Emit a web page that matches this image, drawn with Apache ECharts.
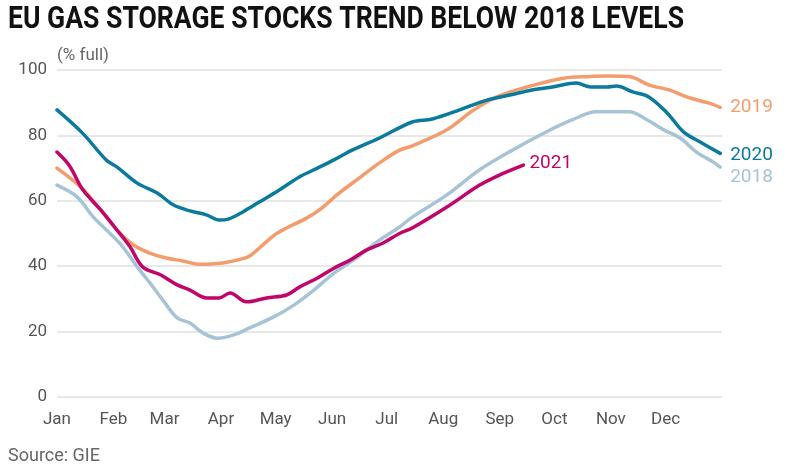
<!DOCTYPE html>
<html>
<head>
<meta charset="utf-8">
<script src="https://cdn.jsdelivr.net/npm/echarts@6/dist/echarts.min.js"></script>
<style>
html,body{margin:0;padding:0;background:#fff;}
#c{width:787px;height:471px;}
</style>
</head>
<body>
<div id="c"></div>
<script>
var titleText = 'EU GAS STORAGE STOCKS TREND BELOW 2018 LEVELS';
var monthLabels = ['Jan','Feb','Mar','Apr','May','Jun','Jul','Aug','Sep','Oct','Nov','Dec'];
var monthStarts = [0,31,59,90,120,151,181,212,243,273,304,334];
var yTicks = [0,20,40,60,80,100];

var days2018 = [0,11,20,29,36,44,51,58,66,73,80,88,97,106,119,130,141,152,165,176,188,195,214,232,250,269,283,296,314,324,333,342,351,360,364];
var vals2018 = [64.8,61.2,55,50.1,46,39.8,34.9,29.7,24.2,22.6,19.6,18,19,21.2,24.5,28.1,32.7,37.9,42.8,47.6,52,55,61.8,69.5,75.5,81.2,84.8,87.2,87.2,84.7,81.7,79.2,74.9,71.9,70.3];

var days2019 = [0,13,24,33,42,51,60,69,78,91,102,106,113,120,126,137,144,155,166,177,188,195,214,228,241,258,278,293,302,314,325,336,346,357,364];
var vals2019 = [70,64.2,57.2,51,46.5,44,42.5,41.6,40.6,41,42.3,43.2,46.5,49.8,51.7,54.7,57.2,62.4,67,71.6,75.5,76.8,81.7,87.5,91.7,94.8,97.5,98,98.2,98,95.4,93.9,91.7,90,88.6];

var days2020 = [0,14,27,33,44,55,64,73,82,89,94,102,111,122,133,143,152,162,177,195,206,221,236,250,260,272,285,293,302,307,316,325,335,344,353,364];
var vals2020 = [87.8,80.7,72.5,70.3,65.4,62.4,58.7,56.9,55.7,54.1,54.4,56.6,59.6,63.3,67.3,70,72.5,75.5,79.2,84.1,85,87.8,90.8,92.5,93.8,94.8,96,94.8,94.8,95.1,93.3,91.7,86.8,81,78,74.5];

var days2021 = [0,7,14,24,33,40,47,57,66,73,82,89,95,104,115,126,133,143,152,161,170,179,188,195,214,232,243,256];
var vals2021 = [74.9,70.6,63.5,57.2,51,46,39.8,37.3,34.3,32.7,30.3,30.3,31.8,29.1,30.3,31.2,33.6,36.4,39.4,41.9,45,47.1,50,51.7,58.1,64.8,67.9,70.9];

function pairs(d, v){ return d.map(function(x,i){ return [x, v[i]]; }); }

var C2018 = '#a7c4d7', C2019 = '#f49c6c', C2020 = '#0b7a9d', C2021 = '#c1066b';
var lblFont = 'Roboto, "Noto Sans", sans-serif';

// horizontally condense the bold title to the reference width
var titleFont = 'bold 31px Roboto, sans-serif';
var cv = document.createElement('canvas').getContext('2d');
cv.font = titleFont;
var titleW = cv.measureText(titleText).width || 675;
var titleScale = 676 / titleW;

function ser(name, d, v, color, offset){
  return {
    name: name, type: 'line', data: pairs(d, v), smooth: 0.35, symbol: 'none',
    lineStyle: {color: color, width: 3.5, cap: 'round'},
    endLabel: {show: true, formatter: name, color: color, fontSize: 19, fontFamily: lblFont, distance: 10, offset: offset || [0,0]},
    z: 3
  };
}

var chart = echarts.init(document.getElementById('c'));
chart.setOption({
  animation: false,
  backgroundColor: '#fff',
  graphic: [
    {type: 'text', x: 8, y: 5, scaleX: titleScale, style: {text: titleText, font: titleFont, fill: '#111'}},
    {type: 'text', left: 57, top: 47, style: {text: '(% full)', fontSize: 17, fontFamily: lblFont, fill: '#666'}},
    {type: 'text', left: 8, top: 447, style: {text: 'Source: GIE', fontSize: 18, fontFamily: lblFont, fill: '#666'}}
  ],
  grid: {left: 57, right: 65, top: 70, bottom: 74, containLabel: false},
  xAxis: {
    type: 'value', min: 0, max: 365,
    axisLine: {show: false}, axisTick: {show: false},
    splitLine: {show: false},
    axisLabel: {
      customValues: monthStarts,
      formatter: function(v){ var i = monthStarts.indexOf(v); return i >= 0 ? monthLabels[i] : ''; },
      color: '#555', fontSize: 17, fontFamily: lblFont, margin: 14
    }
  },
  yAxis: {
    type: 'value', min: 0, max: 100, interval: 20,
    axisLine: {show: false}, axisTick: {show: false},
    splitLine: {lineStyle: {color: '#e0e0e0', width: 1.5}},
    axisLabel: {color: '#555', fontSize: 17, fontFamily: lblFont, margin: 10}
  },
  series: [
    ser('2018', days2018, vals2018, C2018, [0, 10]),
    ser('2019', days2019, vals2019, C2019),
    ser('2020', days2020, vals2020, C2020, [0, 2]),
    ser('2021', days2021, vals2021, C2021, [-4, -2])
  ]
});
</script>
</body>
</html>
